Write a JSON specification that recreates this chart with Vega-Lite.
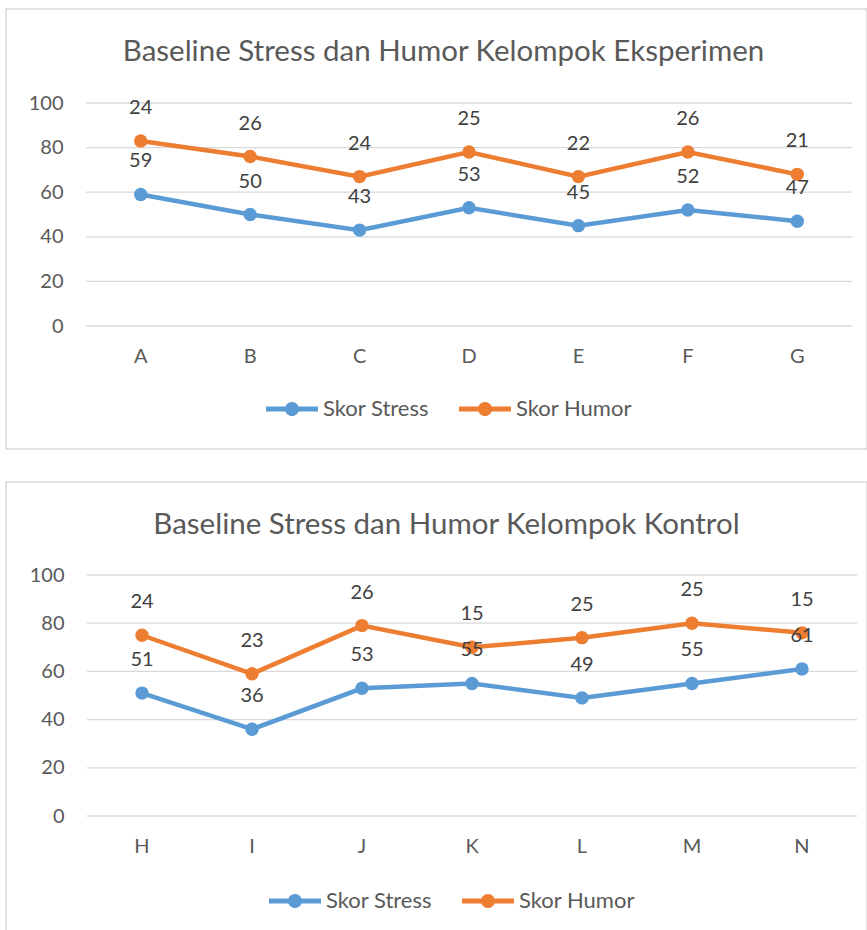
{
  "$schema": "https://vega.github.io/schema/vega-lite/v6.json",
  "padding": {"left": 5, "top": 8, "right": 0, "bottom": 0},
  "spacing": 31,
  "datasets": {
    "grid": [{"v": 0}, {"v": 20}, {"v": 40}, {"v": 60}, {"v": 80}, {"v": 100}],
    "exp": [
      {"cat": "A", "series": "Skor Stress", "value": 59},
      {"cat": "B", "series": "Skor Stress", "value": 50},
      {"cat": "C", "series": "Skor Stress", "value": 43},
      {"cat": "D", "series": "Skor Stress", "value": 53},
      {"cat": "E", "series": "Skor Stress", "value": 45},
      {"cat": "F", "series": "Skor Stress", "value": 52},
      {"cat": "G", "series": "Skor Stress", "value": 47},
      {"cat": "A", "series": "Skor Humor", "value": 24},
      {"cat": "B", "series": "Skor Humor", "value": 26},
      {"cat": "C", "series": "Skor Humor", "value": 24},
      {"cat": "D", "series": "Skor Humor", "value": 25},
      {"cat": "E", "series": "Skor Humor", "value": 22},
      {"cat": "F", "series": "Skor Humor", "value": 26},
      {"cat": "G", "series": "Skor Humor", "value": 21}
    ],
    "kon": [
      {"cat": "H", "series": "Skor Stress", "value": 51},
      {"cat": "I", "series": "Skor Stress", "value": 36},
      {"cat": "J", "series": "Skor Stress", "value": 53},
      {"cat": "K", "series": "Skor Stress", "value": 55},
      {"cat": "L", "series": "Skor Stress", "value": 49},
      {"cat": "M", "series": "Skor Stress", "value": 55},
      {"cat": "N", "series": "Skor Stress", "value": 61},
      {"cat": "H", "series": "Skor Humor", "value": 24},
      {"cat": "I", "series": "Skor Humor", "value": 23},
      {"cat": "J", "series": "Skor Humor", "value": 26},
      {"cat": "K", "series": "Skor Humor", "value": 15},
      {"cat": "L", "series": "Skor Humor", "value": 25},
      {"cat": "M", "series": "Skor Humor", "value": 25},
      {"cat": "N", "series": "Skor Humor", "value": 15}
    ]
  },
  "vconcat": [
    {
      "width": 861,
      "height": 440,
      "title": {"text": "Baseline Stress dan Humor Kelompok Eksperimen", "offset": -58, "dx": 7},
      "layer": [
        {
          "data": {"name": "grid"},
          "mark": {"type": "rule", "color": "#d9d9d9", "strokeWidth": 1.3},
          "encoding": {
            "y": {"field": "v", "type": "quantitative", "scale": {"domain": [0, 100], "range": [317, 94]},
                  "axis": {"title": null, "offset": -80, "labelPadding": 23, "values": [0, 20, 40, 60, 80, 100]}},
            "x": {"datum": "A", "type": "nominal", "bandPosition": 0,
                  "scale": {"type": "band", "domain": ["A", "B", "C", "D", "E", "F", "G"], "range": [80, 846], "paddingInner": 0, "paddingOuter": 0},
                  "axis": {"title": null, "offset": -123, "labelPadding": 20, "labelAngle": 0}},
            "x2": {"datum": "G", "bandPosition": 1}
          }
        },
        {
          "data": {"name": "exp"},
          "transform": [{"stack": "value", "groupby": ["cat"], "sort": [{"field": "series", "order": "descending"}], "as": ["y0", "y1"]}],
          "encoding": {
            "x": {"field": "cat", "type": "nominal", "axis": {"title": null, "offset": -123, "labelPadding": 20, "labelAngle": 0}},
            "y": {"field": "y1", "type": "quantitative", "axis": {"title": null, "offset": -80, "labelPadding": 23, "values": [0, 20, 40, 60, 80, 100]}},
            "color": {"field": "series", "type": "nominal",
                      "scale": {"domain": ["Skor Stress", "Skor Humor"], "range": ["#5B9BD5", "#ED7D31"]},
                      "legend": {"title": null, "orient": "none", "legendX": 260, "legendY": 374, "direction": "horizontal",
                                 "symbolType": "M-1,-0.096H1V0.096H-1Z M0.27,0A0.27,0.27,0,1,1,-0.27,0A0.27,0.27,0,1,1,0.27,0Z",
                                 "symbolSize": 2704, "symbolStrokeWidth": 0, "labelFontSize": 22, "labelColor": "#595959",
                                 "labelFont": "Lato", "columnPadding": 30, "labelOffset": 5}}
          },
          "layer": [
            {"mark": {"type": "line", "strokeWidth": 4.5}},
            {"mark": {"type": "point", "filled": true, "shape": "circle", "size": 180, "opacity": 1}},
            {"mark": {"type": "text", "dy": -33, "fontSize": 20, "font": "Lato"},
             "encoding": {"text": {"field": "value", "type": "quantitative"}, "color": {"value": "#404040"}}}
          ]
        }
      ]
    },
    {
      "width": 861,
      "height": 449,
      "title": {"text": "Baseline Stress dan Humor Kelompok Kontrol", "offset": -58, "dx": 10},
      "layer": [
        {
          "data": {"name": "grid"},
          "mark": {"type": "rule", "color": "#d9d9d9", "strokeWidth": 1.3},
          "encoding": {
            "y": {"field": "v", "type": "quantitative", "scale": {"domain": [0, 100], "range": [334, 93]},
                  "axis": {"title": null, "offset": -81, "labelPadding": 23, "values": [0, 20, 40, 60, 80, 100]}},
            "x": {"datum": "H", "type": "nominal", "bandPosition": 0,
                  "scale": {"type": "band", "domain": ["H", "I", "J", "K", "L", "M", "N"], "range": [81, 851], "paddingInner": 0, "paddingOuter": 0},
                  "axis": {"title": null, "offset": -115, "labelPadding": 20, "labelAngle": 0}},
            "x2": {"datum": "N", "bandPosition": 1}
          }
        },
        {
          "data": {"name": "kon"},
          "transform": [{"stack": "value", "groupby": ["cat"], "sort": [{"field": "series", "order": "descending"}], "as": ["y0", "y1"]}],
          "encoding": {
            "x": {"field": "cat", "type": "nominal", "axis": {"title": null, "offset": -115, "labelPadding": 20, "labelAngle": 0}},
            "y": {"field": "y1", "type": "quantitative", "axis": {"title": null, "offset": -81, "labelPadding": 23, "values": [0, 20, 40, 60, 80, 100]}},
            "color": {"field": "series", "type": "nominal",
                      "scale": {"domain": ["Skor Stress", "Skor Humor"], "range": ["#5B9BD5", "#ED7D31"]},
                      "legend": {"title": null, "orient": "none", "legendX": 263, "legendY": 393, "direction": "horizontal",
                                 "symbolType": "M-1,-0.096H1V0.096H-1Z M0.27,0A0.27,0.27,0,1,1,-0.27,0A0.27,0.27,0,1,1,0.27,0Z",
                                 "symbolSize": 2704, "symbolStrokeWidth": 0, "labelFontSize": 22, "labelColor": "#595959",
                                 "labelFont": "Lato", "columnPadding": 30, "labelOffset": 5}}
          },
          "layer": [
            {"mark": {"type": "line", "strokeWidth": 4.5}},
            {"mark": {"type": "point", "filled": true, "shape": "circle", "size": 180, "opacity": 1}},
            {"mark": {"type": "text", "dy": -33, "fontSize": 20, "font": "Lato"},
             "encoding": {"text": {"field": "value", "type": "quantitative"}, "color": {"value": "#404040"}}}
          ]
        }
      ]
    }
  ],
  "resolve": {"scale": {"x": "independent", "y": "independent"}, "legend": {"color": "independent"}},
  "config": {
    "font": "Lato",
    "view": {"stroke": "#d9d9d9", "strokeWidth": 1.5},
    "axis": {"domain": false, "ticks": false, "tickSize": 0, "grid": false, "labelFont": "Lato", "labelFontSize": 20, "labelColor": "#595959"},
    "title": {"fontSize": 29.5, "fontWeight": "normal", "color": "#595959", "font": "Lato", "anchor": "middle", "baseline": "middle"}
  }
}
